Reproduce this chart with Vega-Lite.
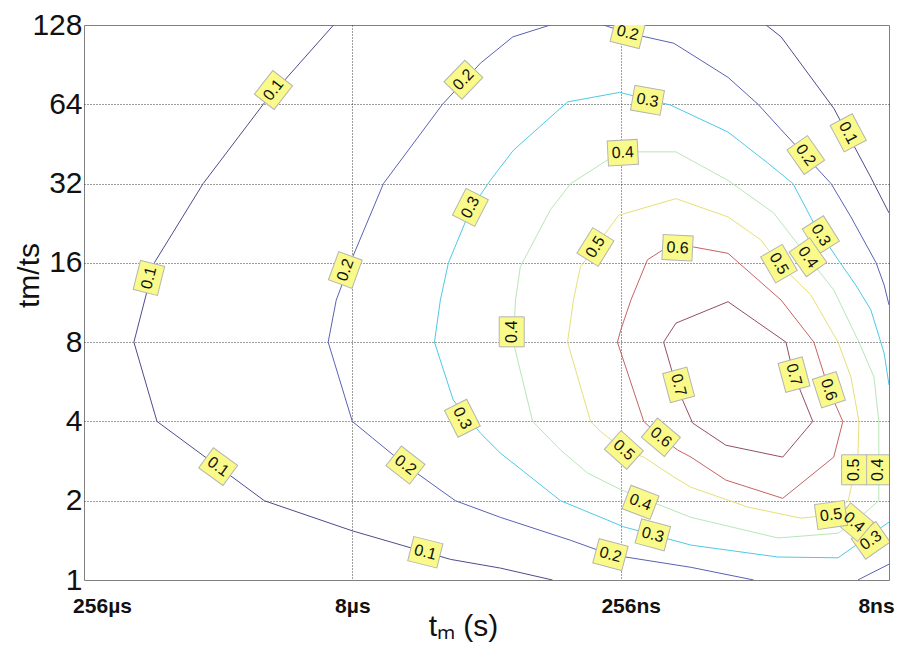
{
  "$schema": "https://vega.github.io/schema/vega-lite/v6.json",
  "width": 805,
  "height": 555,
  "autosize": {"type": "none"},
  "padding": {"left": 84, "top": 25, "right": 8, "bottom": 68},
  "background": "white",
  "config": {
    "view": {"stroke": "#808080", "strokeWidth": 1},
    "font": "Liberation Sans",
    "axis": {"domain": false, "ticks": false, "tickSize": 0, "grid": true, "gridColor": "#3a3a3a", "gridDash": [1, 2], "gridWidth": 1, "labelColor": "#111111", "titleColor": "#111111", "labelFont": "Liberation Sans", "titleFont": "Liberation Sans", "titleFontWeight": "normal"}
  },
  "datasets": {
    "lines": [
      {"level":0.1,"part":"0.1a","i":0,"log2_tm":-16.65,"log2_ratio":7.0},
      {"level":0.1,"part":"0.1a","i":1,"log2_tm":-15.34,"log2_ratio":6.0},
      {"level":0.1,"part":"0.1a","i":2,"log2_tm":-14.22,"log2_ratio":5.0},
      {"level":0.1,"part":"0.1a","i":3,"log2_tm":-13.31,"log2_ratio":4.0},
      {"level":0.1,"part":"0.1a","i":4,"log2_tm":-12.93,"log2_ratio":3.0},
      {"level":0.1,"part":"0.1a","i":5,"log2_tm":-13.36,"log2_ratio":2.0},
      {"level":0.1,"part":"0.1a","i":6,"log2_tm":-15.36,"log2_ratio":1.0},
      {"level":0.1,"part":"0.1a","i":7,"log2_tm":-17.0,"log2_ratio":0.62},
      {"level":0.1,"part":"0.1a","i":8,"log2_tm":-18.83,"log2_ratio":0.26},
      {"level":0.1,"part":"0.1a","i":9,"log2_tm":-19.76,"log2_ratio":0.15},
      {"level":0.1,"part":"0.1a","i":10,"log2_tm":-20.73,"log2_ratio":0.0},
      {"level":0.1,"part":"0.1b","i":0,"log2_tm":-24.71,"log2_ratio":7.0},
      {"level":0.1,"part":"0.1b","i":1,"log2_tm":-24.99,"log2_ratio":6.85},
      {"level":0.1,"part":"0.1b","i":2,"log2_tm":-25.97,"log2_ratio":5.95},
      {"level":0.1,"part":"0.1b","i":3,"log2_tm":-26.66,"log2_ratio":5.08},
      {"level":0.1,"part":"0.1b","i":4,"log2_tm":-27.0,"log2_ratio":4.63},
      {"level":0.2,"part":"0.2a","i":0,"log2_tm":-24.48,"log2_ratio":0.0},
      {"level":0.2,"part":"0.2a","i":1,"log2_tm":-23.31,"log2_ratio":0.16},
      {"level":0.2,"part":"0.2a","i":2,"log2_tm":-21.81,"log2_ratio":0.32},
      {"level":0.2,"part":"0.2a","i":3,"log2_tm":-21.07,"log2_ratio":0.5},
      {"level":0.2,"part":"0.2a","i":4,"log2_tm":-19.76,"log2_ratio":0.79},
      {"level":0.2,"part":"0.2a","i":5,"log2_tm":-18.92,"log2_ratio":1.0},
      {"level":0.2,"part":"0.2a","i":6,"log2_tm":-17.99,"log2_ratio":1.45},
      {"level":0.2,"part":"0.2a","i":7,"log2_tm":-17.0,"log2_ratio":2.0},
      {"level":0.2,"part":"0.2a","i":8,"log2_tm":-16.55,"log2_ratio":3.0},
      {"level":0.2,"part":"0.2a","i":9,"log2_tm":-16.7,"log2_ratio":3.53},
      {"level":0.2,"part":"0.2a","i":10,"log2_tm":-16.96,"log2_ratio":4.0},
      {"level":0.2,"part":"0.2a","i":11,"log2_tm":-17.58,"log2_ratio":5.0},
      {"level":0.2,"part":"0.2a","i":12,"log2_tm":-18.68,"log2_ratio":6.0},
      {"level":0.2,"part":"0.2a","i":13,"log2_tm":-19.39,"log2_ratio":6.52},
      {"level":0.2,"part":"0.2a","i":14,"log2_tm":-19.99,"log2_ratio":6.85},
      {"level":0.2,"part":"0.2a","i":15,"log2_tm":-20.69,"log2_ratio":7.0},
      {"level":0.2,"part":"0.2a","i":16,"log2_tm":-21.2,"log2_ratio":7.07},
      {"level":0.2,"part":"0.2a","i":17,"log2_tm":-21.68,"log2_ratio":7.0},
      {"level":0.2,"part":"0.2a","i":18,"log2_tm":-22.13,"log2_ratio":6.9},
      {"level":0.2,"part":"0.2a","i":19,"log2_tm":-22.99,"log2_ratio":6.77},
      {"level":0.2,"part":"0.2a","i":20,"log2_tm":-24.0,"log2_ratio":6.34},
      {"level":0.2,"part":"0.2a","i":21,"log2_tm":-24.56,"log2_ratio":6.0},
      {"level":0.2,"part":"0.2a","i":22,"log2_tm":-24.99,"log2_ratio":5.68},
      {"level":0.2,"part":"0.2a","i":23,"log2_tm":-25.92,"log2_ratio":5.0},
      {"level":0.2,"part":"0.2a","i":24,"log2_tm":-26.29,"log2_ratio":4.58},
      {"level":0.2,"part":"0.2a","i":25,"log2_tm":-26.76,"log2_ratio":4.0},
      {"level":0.2,"part":"0.2a","i":26,"log2_tm":-26.91,"log2_ratio":3.72},
      {"level":0.2,"part":"0.2a","i":27,"log2_tm":-27.0,"log2_ratio":3.47},
      {"level":0.2,"part":"0.2b","i":0,"log2_tm":-26.42,"log2_ratio":0.0},
      {"level":0.2,"part":"0.2b","i":1,"log2_tm":-27.0,"log2_ratio":0.2},
      {"level":0.3,"part":"0.3a","i":0,"log2_tm":-27.0,"log2_ratio":0.73},
      {"level":0.3,"part":"0.3a","i":1,"log2_tm":-26.51,"log2_ratio":0.5},
      {"level":0.3,"part":"0.3a","i":2,"log2_tm":-26.05,"log2_ratio":0.28},
      {"level":0.3,"part":"0.3a","i":3,"log2_tm":-24.93,"log2_ratio":0.29},
      {"level":0.3,"part":"0.3a","i":4,"log2_tm":-23.31,"log2_ratio":0.44},
      {"level":0.3,"part":"0.3a","i":5,"log2_tm":-22.06,"log2_ratio":0.67},
      {"level":0.3,"part":"0.3a","i":6,"log2_tm":-20.88,"log2_ratio":1.0},
      {"level":0.3,"part":"0.3a","i":7,"log2_tm":-19.76,"log2_ratio":1.6},
      {"level":0.3,"part":"0.3a","i":8,"log2_tm":-19.39,"log2_ratio":1.85},
      {"level":0.3,"part":"0.3a","i":9,"log2_tm":-18.88,"log2_ratio":2.27},
      {"level":0.3,"part":"0.3a","i":10,"log2_tm":-18.53,"log2_ratio":3.0},
      {"level":0.3,"part":"0.3a","i":11,"log2_tm":-18.64,"log2_ratio":3.53},
      {"level":0.3,"part":"0.3a","i":12,"log2_tm":-18.79,"log2_ratio":4.0},
      {"level":0.3,"part":"0.3a","i":13,"log2_tm":-19.2,"log2_ratio":4.67},
      {"level":0.3,"part":"0.3a","i":14,"log2_tm":-19.57,"log2_ratio":5.04},
      {"level":0.3,"part":"0.3a","i":15,"log2_tm":-20.0,"log2_ratio":5.42},
      {"level":0.3,"part":"0.3a","i":16,"log2_tm":-21.01,"log2_ratio":6.03},
      {"level":0.3,"part":"0.3a","i":17,"log2_tm":-21.98,"log2_ratio":6.15},
      {"level":0.3,"part":"0.3a","i":18,"log2_tm":-22.93,"log2_ratio":5.99},
      {"level":0.3,"part":"0.3a","i":19,"log2_tm":-24.0,"log2_ratio":5.65},
      {"level":0.3,"part":"0.3a","i":20,"log2_tm":-24.74,"log2_ratio":5.26},
      {"level":0.3,"part":"0.3a","i":21,"log2_tm":-25.21,"log2_ratio":5.0},
      {"level":0.3,"part":"0.3a","i":22,"log2_tm":-25.6,"log2_ratio":4.5},
      {"level":0.3,"part":"0.3a","i":23,"log2_tm":-26.05,"log2_ratio":4.04},
      {"level":0.3,"part":"0.3a","i":24,"log2_tm":-26.38,"log2_ratio":3.72},
      {"level":0.3,"part":"0.3a","i":25,"log2_tm":-26.66,"log2_ratio":3.41},
      {"level":0.3,"part":"0.3a","i":26,"log2_tm":-26.91,"log2_ratio":2.86},
      {"level":0.3,"part":"0.3a","i":27,"log2_tm":-27.0,"log2_ratio":2.46},
      {"level":0.4,"part":"0.4a","i":0,"log2_tm":-20.04,"log2_ratio":3.53},
      {"level":0.4,"part":"0.4a","i":1,"log2_tm":-20.0,"log2_ratio":3.0},
      {"level":0.4,"part":"0.4a","i":2,"log2_tm":-20.36,"log2_ratio":2.0},
      {"level":0.4,"part":"0.4a","i":3,"log2_tm":-20.88,"log2_ratio":1.64},
      {"level":0.4,"part":"0.4a","i":4,"log2_tm":-21.38,"log2_ratio":1.35},
      {"level":0.4,"part":"0.4a","i":5,"log2_tm":-22.0,"log2_ratio":1.14},
      {"level":0.4,"part":"0.4a","i":6,"log2_tm":-23.31,"log2_ratio":0.79},
      {"level":0.4,"part":"0.4a","i":7,"log2_tm":-24.93,"log2_ratio":0.53},
      {"level":0.4,"part":"0.4a","i":8,"log2_tm":-26.05,"log2_ratio":0.59},
      {"level":0.4,"part":"0.4a","i":9,"log2_tm":-26.35,"log2_ratio":0.73},
      {"level":0.4,"part":"0.4a","i":10,"log2_tm":-26.81,"log2_ratio":1.0},
      {"level":0.4,"part":"0.4a","i":11,"log2_tm":-26.81,"log2_ratio":2.0},
      {"level":0.4,"part":"0.4a","i":12,"log2_tm":-26.72,"log2_ratio":2.56},
      {"level":0.4,"part":"0.4a","i":13,"log2_tm":-26.44,"log2_ratio":3.0},
      {"level":0.4,"part":"0.4a","i":14,"log2_tm":-25.97,"log2_ratio":3.66},
      {"level":0.4,"part":"0.4a","i":15,"log2_tm":-25.49,"log2_ratio":4.07},
      {"level":0.4,"part":"0.4a","i":16,"log2_tm":-24.85,"log2_ratio":4.63},
      {"level":0.4,"part":"0.4a","i":17,"log2_tm":-24.0,"log2_ratio":5.04},
      {"level":0.4,"part":"0.4a","i":18,"log2_tm":-23.03,"log2_ratio":5.4},
      {"level":0.4,"part":"0.4a","i":19,"log2_tm":-22.24,"log2_ratio":5.4},
      {"level":0.4,"part":"0.4a","i":20,"log2_tm":-21.76,"log2_ratio":5.3},
      {"level":0.4,"part":"0.4a","i":21,"log2_tm":-21.07,"log2_ratio":5.0},
      {"level":0.4,"part":"0.4a","i":22,"log2_tm":-20.69,"log2_ratio":4.67},
      {"level":0.4,"part":"0.4a","i":23,"log2_tm":-20.13,"log2_ratio":3.95},
      {"level":0.4,"part":"0.4a","i":24,"log2_tm":-20.04,"log2_ratio":3.53},
      {"level":0.5,"part":"0.5a","i":0,"log2_tm":-21.12,"log2_ratio":3.53},
      {"level":0.5,"part":"0.5a","i":1,"log2_tm":-21.01,"log2_ratio":3.0},
      {"level":0.5,"part":"0.5a","i":2,"log2_tm":-21.44,"log2_ratio":2.0},
      {"level":0.5,"part":"0.5a","i":3,"log2_tm":-21.63,"log2_ratio":1.87},
      {"level":0.5,"part":"0.5a","i":4,"log2_tm":-22.06,"log2_ratio":1.64},
      {"level":0.5,"part":"0.5a","i":5,"log2_tm":-22.43,"log2_ratio":1.55},
      {"level":0.5,"part":"0.5a","i":6,"log2_tm":-22.99,"log2_ratio":1.3},
      {"level":0.5,"part":"0.5a","i":7,"log2_tm":-23.31,"log2_ratio":1.17},
      {"level":0.5,"part":"0.5a","i":8,"log2_tm":-24.37,"log2_ratio":0.92},
      {"level":0.5,"part":"0.5a","i":9,"log2_tm":-25.36,"log2_ratio":0.78},
      {"level":0.5,"part":"0.5a","i":10,"log2_tm":-25.92,"log2_ratio":0.82},
      {"level":0.5,"part":"0.5a","i":11,"log2_tm":-26.24,"log2_ratio":1.0},
      {"level":0.5,"part":"0.5a","i":12,"log2_tm":-26.42,"log2_ratio":1.55},
      {"level":0.5,"part":"0.5a","i":13,"log2_tm":-26.44,"log2_ratio":2.0},
      {"level":0.5,"part":"0.5a","i":14,"log2_tm":-26.29,"log2_ratio":2.56},
      {"level":0.5,"part":"0.5a","i":15,"log2_tm":-26.05,"log2_ratio":3.0},
      {"level":0.5,"part":"0.5a","i":16,"log2_tm":-25.54,"log2_ratio":3.6},
      {"level":0.5,"part":"0.5a","i":17,"log2_tm":-24.95,"log2_ratio":3.99},
      {"level":0.5,"part":"0.5a","i":18,"log2_tm":-24.61,"log2_ratio":4.29},
      {"level":0.5,"part":"0.5a","i":19,"log2_tm":-24.0,"log2_ratio":4.58},
      {"level":0.5,"part":"0.5a","i":20,"log2_tm":-23.03,"log2_ratio":4.81},
      {"level":0.5,"part":"0.5a","i":21,"log2_tm":-21.96,"log2_ratio":4.6},
      {"level":0.5,"part":"0.5a","i":22,"log2_tm":-21.53,"log2_ratio":4.2},
      {"level":0.5,"part":"0.5a","i":23,"log2_tm":-21.25,"log2_ratio":3.95},
      {"level":0.5,"part":"0.5a","i":24,"log2_tm":-21.12,"log2_ratio":3.53},
      {"level":0.6,"part":"0.6a","i":0,"log2_tm":-22.0,"log2_ratio":3.15},
      {"level":0.6,"part":"0.6a","i":1,"log2_tm":-21.94,"log2_ratio":3.0},
      {"level":0.6,"part":"0.6a","i":2,"log2_tm":-22.43,"log2_ratio":2.0},
      {"level":0.6,"part":"0.6a","i":3,"log2_tm":-22.75,"log2_ratio":1.8},
      {"level":0.6,"part":"0.6a","i":4,"log2_tm":-23.06,"log2_ratio":1.64},
      {"level":0.6,"part":"0.6a","i":5,"log2_tm":-23.31,"log2_ratio":1.55},
      {"level":0.6,"part":"0.6a","i":6,"log2_tm":-23.96,"log2_ratio":1.26},
      {"level":0.6,"part":"0.6a","i":7,"log2_tm":-25.02,"log2_ratio":1.03},
      {"level":0.6,"part":"0.6a","i":8,"log2_tm":-25.97,"log2_ratio":1.55},
      {"level":0.6,"part":"0.6a","i":9,"log2_tm":-26.14,"log2_ratio":2.0},
      {"level":0.6,"part":"0.6a","i":10,"log2_tm":-25.88,"log2_ratio":2.4},
      {"level":0.6,"part":"0.6a","i":11,"log2_tm":-25.6,"log2_ratio":3.0},
      {"level":0.6,"part":"0.6a","i":12,"log2_tm":-24.99,"log2_ratio":3.53},
      {"level":0.6,"part":"0.6a","i":13,"log2_tm":-24.0,"log2_ratio":4.12},
      {"level":0.6,"part":"0.6a","i":14,"log2_tm":-23.36,"log2_ratio":4.2},
      {"level":0.6,"part":"0.6a","i":15,"log2_tm":-22.78,"log2_ratio":4.16},
      {"level":0.6,"part":"0.6a","i":16,"log2_tm":-22.5,"log2_ratio":4.04},
      {"level":0.6,"part":"0.6a","i":17,"log2_tm":-22.19,"log2_ratio":3.53},
      {"level":0.6,"part":"0.6a","i":18,"log2_tm":-22.0,"log2_ratio":3.15},
      {"level":0.7,"part":"0.7a","i":0,"log2_tm":-22.8,"log2_ratio":3.0},
      {"level":0.7,"part":"0.7a","i":1,"log2_tm":-23.03,"log2_ratio":3.24},
      {"level":0.7,"part":"0.7a","i":2,"log2_tm":-24.0,"log2_ratio":3.51},
      {"level":0.7,"part":"0.7a","i":3,"log2_tm":-25.08,"log2_ratio":3.0},
      {"level":0.7,"part":"0.7a","i":4,"log2_tm":-25.21,"log2_ratio":2.62},
      {"level":0.7,"part":"0.7a","i":5,"log2_tm":-25.58,"log2_ratio":2.0},
      {"level":0.7,"part":"0.7a","i":6,"log2_tm":-25.02,"log2_ratio":1.55},
      {"level":0.7,"part":"0.7a","i":7,"log2_tm":-23.96,"log2_ratio":1.7},
      {"level":0.7,"part":"0.7a","i":8,"log2_tm":-23.34,"log2_ratio":1.98},
      {"level":0.7,"part":"0.7a","i":9,"log2_tm":-23.03,"log2_ratio":2.46},
      {"level":0.7,"part":"0.7a","i":10,"log2_tm":-22.8,"log2_ratio":3.0}
    ],
    "labels": [
      {"level":0.1,"log2_tm":-15.53,"log2_ratio":6.18,"angle":-52},
      {"level":0.1,"log2_tm":-13.21,"log2_ratio":3.81,"angle":-76},
      {"level":0.1,"log2_tm":-14.5,"log2_ratio":1.43,"angle":36},
      {"level":0.1,"log2_tm":-18.36,"log2_ratio":0.35,"angle":14},
      {"level":0.1,"log2_tm":-26.24,"log2_ratio":5.64,"angle":62},
      {"level":0.2,"log2_tm":-19.07,"log2_ratio":6.31,"angle":-46},
      {"level":0.2,"log2_tm":-16.87,"log2_ratio":3.91,"angle":-70},
      {"level":0.2,"log2_tm":-17.99,"log2_ratio":1.45,"angle":38},
      {"level":0.2,"log2_tm":-21.81,"log2_ratio":0.32,"angle":15},
      {"level":0.2,"log2_tm":-22.13,"log2_ratio":6.9,"angle":14},
      {"level":0.2,"log2_tm":-25.45,"log2_ratio":5.36,"angle":55},
      {"level":0.3,"log2_tm":-19.2,"log2_ratio":4.7,"angle":-63},
      {"level":0.3,"log2_tm":-19.05,"log2_ratio":2.04,"angle":63},
      {"level":0.3,"log2_tm":-22.6,"log2_ratio":0.57,"angle":15},
      {"level":0.3,"log2_tm":-22.5,"log2_ratio":6.05,"angle":10},
      {"level":0.3,"log2_tm":-25.73,"log2_ratio":4.35,"angle":58},
      {"level":0.3,"log2_tm":-26.66,"log2_ratio":0.5,"angle":-35},
      {"level":0.4,"log2_tm":-22.04,"log2_ratio":5.39,"angle":-3},
      {"level":0.4,"log2_tm":-25.49,"log2_ratio":4.07,"angle":55},
      {"level":0.4,"log2_tm":-19.97,"log2_ratio":3.13,"angle":-90},
      {"level":0.4,"log2_tm":-22.37,"log2_ratio":0.98,"angle":21},
      {"level":0.4,"log2_tm":-26.79,"log2_ratio":1.39,"angle":-90},
      {"level":0.4,"log2_tm":-26.35,"log2_ratio":0.73,"angle":40},
      {"level":0.5,"log2_tm":-21.53,"log2_ratio":4.2,"angle":-58},
      {"level":0.5,"log2_tm":-24.95,"log2_ratio":3.99,"angle":60},
      {"level":0.5,"log2_tm":-22.06,"log2_ratio":1.64,"angle":42},
      {"level":0.5,"log2_tm":-26.35,"log2_ratio":1.39,"angle":-90},
      {"level":0.5,"log2_tm":-25.92,"log2_ratio":0.82,"angle":-8},
      {"level":0.6,"log2_tm":-23.06,"log2_ratio":4.19,"angle":3},
      {"level":0.6,"log2_tm":-22.75,"log2_ratio":1.8,"angle":40},
      {"level":0.6,"log2_tm":-25.88,"log2_ratio":2.4,"angle":72},
      {"level":0.7,"log2_tm":-23.08,"log2_ratio":2.46,"angle":75},
      {"level":0.7,"log2_tm":-25.23,"log2_ratio":2.59,"angle":75}
    ]
  },
  "encoding": {
    "x": {
      "field": "log2_tm", "type": "quantitative",
      "scale": {"domain": [-12, -27], "nice": false, "zero": false},
      "axis": {
        "values": [-12, -17, -22, -27],
        "labelExpr": "datum.value == -12 ? '256µs' : datum.value == -17 ? '8µs' : datum.value == -22 ? '256ns' : '8ns'",
        "labelFontSize": 21, "labelFontWeight": "bold", "labelPadding": 15, "labelAngle": 0, "labelFlush": false, "labelOverlap": false,
        "labelOffset": {"condition": [{"test": "datum.value == -12", "value": 18}, {"test": "datum.value == -22", "value": 10}, {"test": "datum.value == -27", "value": -13}], "value": 0},
        "gridOpacity": {"condition": {"test": "datum.value == -12 || datum.value == -27", "value": 0}, "value": 1},
        "title": "tₘ (s)", "titleFontSize": 30, "titleX": 379, "titleY": 55, "titleBaseline": "alphabetic", "titleAlign": "center"
      }
    },
    "y": {
      "field": "log2_ratio", "type": "quantitative",
      "scale": {"domain": [0, 7], "nice": false, "zero": false},
      "axis": {
        "values": [0, 1, 2, 3, 4, 5, 6, 7],
        "labelExpr": "'' + pow(2, datum.value)",
        "labelFontSize": 30, "labelPadding": 2, "labelOverlap": false,
        "gridOpacity": {"condition": {"test": "datum.value == 0 || datum.value == 7", "value": 0}, "value": 1},
        "title": "tm/ts", "titleFontSize": 30, "titleX": -46, "titleY": 250, "titleAngle": -90, "titleBaseline": "alphabetic", "titleAlign": "center"
      }
    }
  },
  "layer": [
    {
      "data": {"name": "lines"},
      "mark": {"type": "line", "strokeWidth": 1, "clip": true},
      "encoding": {
        "detail": {"field": "part", "type": "nominal"},
        "order": {"field": "i", "type": "quantitative"},
        "color": {"field": "level", "type": "ordinal", "legend": null,
          "scale": {"domain": [0.1, 0.2, 0.3, 0.4, 0.5, 0.6, 0.7], "range": ["#4c4c8c", "#5a62b4", "#4ccae6", "#b8e6b8", "#e8df78", "#c86262", "#93505e"]}}
      }
    },
    {
      "data": {"name": "labels"},
      "mark": {"type": "point", "shape": "M-1.2,-1L1.2,-1L1.2,1L-1.2,1Z", "filled": true, "fill": "#fafa8a", "stroke": "#b4b4b4", "strokeWidth": 1, "size": 625, "opacity": 1, "clip": true},
      "encoding": {
        "angle": {"field": "angle", "type": "quantitative", "scale": null}
      }
    },
    {
      "data": {"name": "labels"},
      "mark": {"type": "text", "fontSize": 16, "font": "Liberation Sans", "color": "#111111", "align": "center", "baseline": "middle", "clip": true},
      "encoding": {
        "text": {"field": "level", "type": "quantitative", "format": ".1f"},
        "angle": {"field": "angle", "type": "quantitative", "scale": null}
      }
    }
  ]
}
